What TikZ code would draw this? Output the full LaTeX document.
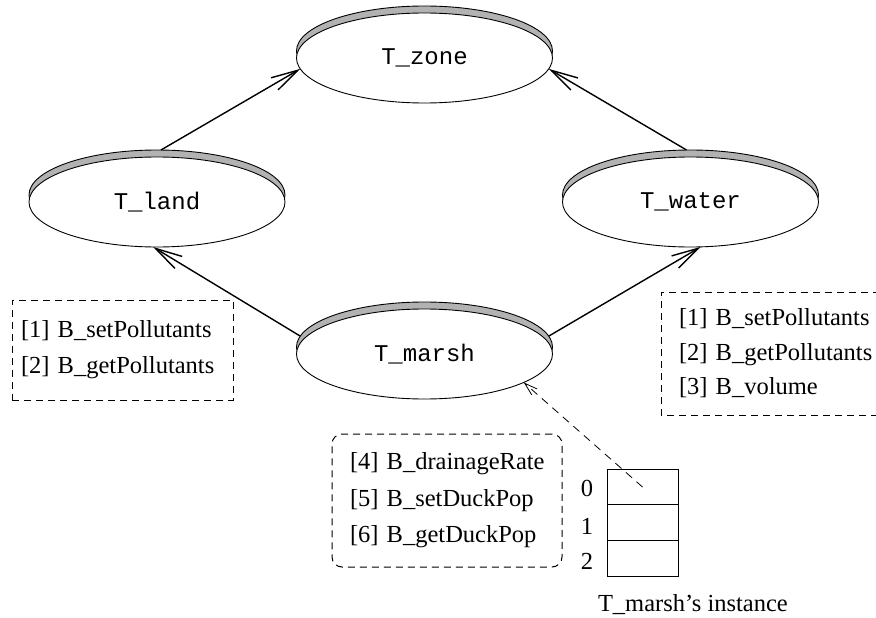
\documentclass[tikz,border=0pt]{standalone}
\usepackage{fontspec}
\setmainfont{Liberation Serif}
\setmonofont{Liberation Mono}
\usetikzlibrary{shapes.geometric,arrows.meta}
\definecolor{bandgray}{gray}{0.70}
\begin{document}
\begin{tikzpicture}[x=1pt,y=-1pt,
  every node/.style={inner sep=0pt, outer sep=0pt},
  % type ellipse with a grey band peeking out above it
  typenode/.style={ellipse, draw, line width=0.9pt, fill=white,
    minimum width=256pt, minimum height=90pt,
    font=\fontsize{24}{28}\selectfont\ttfamily,
    preaction={draw, fill=bandgray, transform canvas={yshift=7pt}}},
  link/.style={line width=1.4pt,
    -{Straight Barb[length=27pt,width=14pt,line width=1.4pt]}},
  reflink/.style={line width=0.8pt, dash pattern=on 8pt off 6pt,
    -{Straight Barb[length=13pt,width=8pt,line width=0.8pt,sep=0pt]}},
  behbox/.style={draw, line width=1pt, dash pattern=on 7pt off 5pt,
    align=left, font=\fontsize{24.5}{36}\selectfont},
  cell/.style={draw, line width=0.9pt, minimum width=71pt, minimum height=35.7pt},
  idx/.style={font=\fontsize{24.5}{28}\selectfont},
]
\useasboundingbox (0,0) rectangle (876,618);

% inheritance graph
\node[typenode] (zone)  at (424.5,58)  {T\_zone};
\node[typenode] (land)  at (157,202)   {T\_land};
\node[typenode] (water) at (690.5,202) {T\_water};
\node[typenode] (marsh) at (424.5,354) {T\_marsh};

\draw[link] ([yshift=7pt]land.85)   -- (zone.185);
\draw[link] ([yshift=7pt]water.95)  -- (zone.-5);
\draw[link] ([yshift=7pt]marsh.175) -- (land.-95);
\draw[link] ([yshift=7pt]marsh.5)   -- (water.-77);

% behaviour lists
\node[behbox, anchor=west, inner xsep=9pt, text width=203pt,
      minimum height=100pt] (landbeh) at (12,350)
  {[1]~B\_setPollutants\\{}[2]~B\_getPollutants};

\node[behbox, draw=none, anchor=west, inner xsep=18pt, text width=190pt,
      minimum height=123pt, font=\fontsize{24.5}{34.5}\selectfont]
  (waterbeh) at (661,353.5)
  {[1]~B\_setPollutants\\{}[2]~B\_getPollutants\\{}[3]~B\_volume};
\coordinate (pageright) at (880,0);
\draw[line width=1pt, dash pattern=on 7pt off 5pt]
  (waterbeh.north west -| pageright) -- (waterbeh.north west)
  -- (waterbeh.south west) -- (waterbeh.south west -| pageright);

\node[behbox, rounded corners=10pt, anchor=west, inner xsep=18pt,
      text width=194pt, minimum height=133pt,
      font=\fontsize{24.5}{36.5}\selectfont] (marshbeh) at (332,500.5)
  {[4]~B\_drainageRate\\{}[5]~B\_setDuckPop\\{}[6]~B\_getDuckPop};

% instance array
\node[cell] (cell0) at (642.5,487)   {};
\node[cell] (cell1) at (642.5,522.7) {};
\node[cell] (cell2) at (642.5,558.4) {};
\node[idx] (i0) at (587,488) {0};
\node[idx] (i1) at (587,526) {1};
\node[idx] (i2) at (587,561) {2};
\node[idx, anchor=west] (caption) at (598,605) {T\_marsh's instance};

\draw[reflink] (cell0.center) -- (marsh.-16);
\end{tikzpicture}
\end{document}
